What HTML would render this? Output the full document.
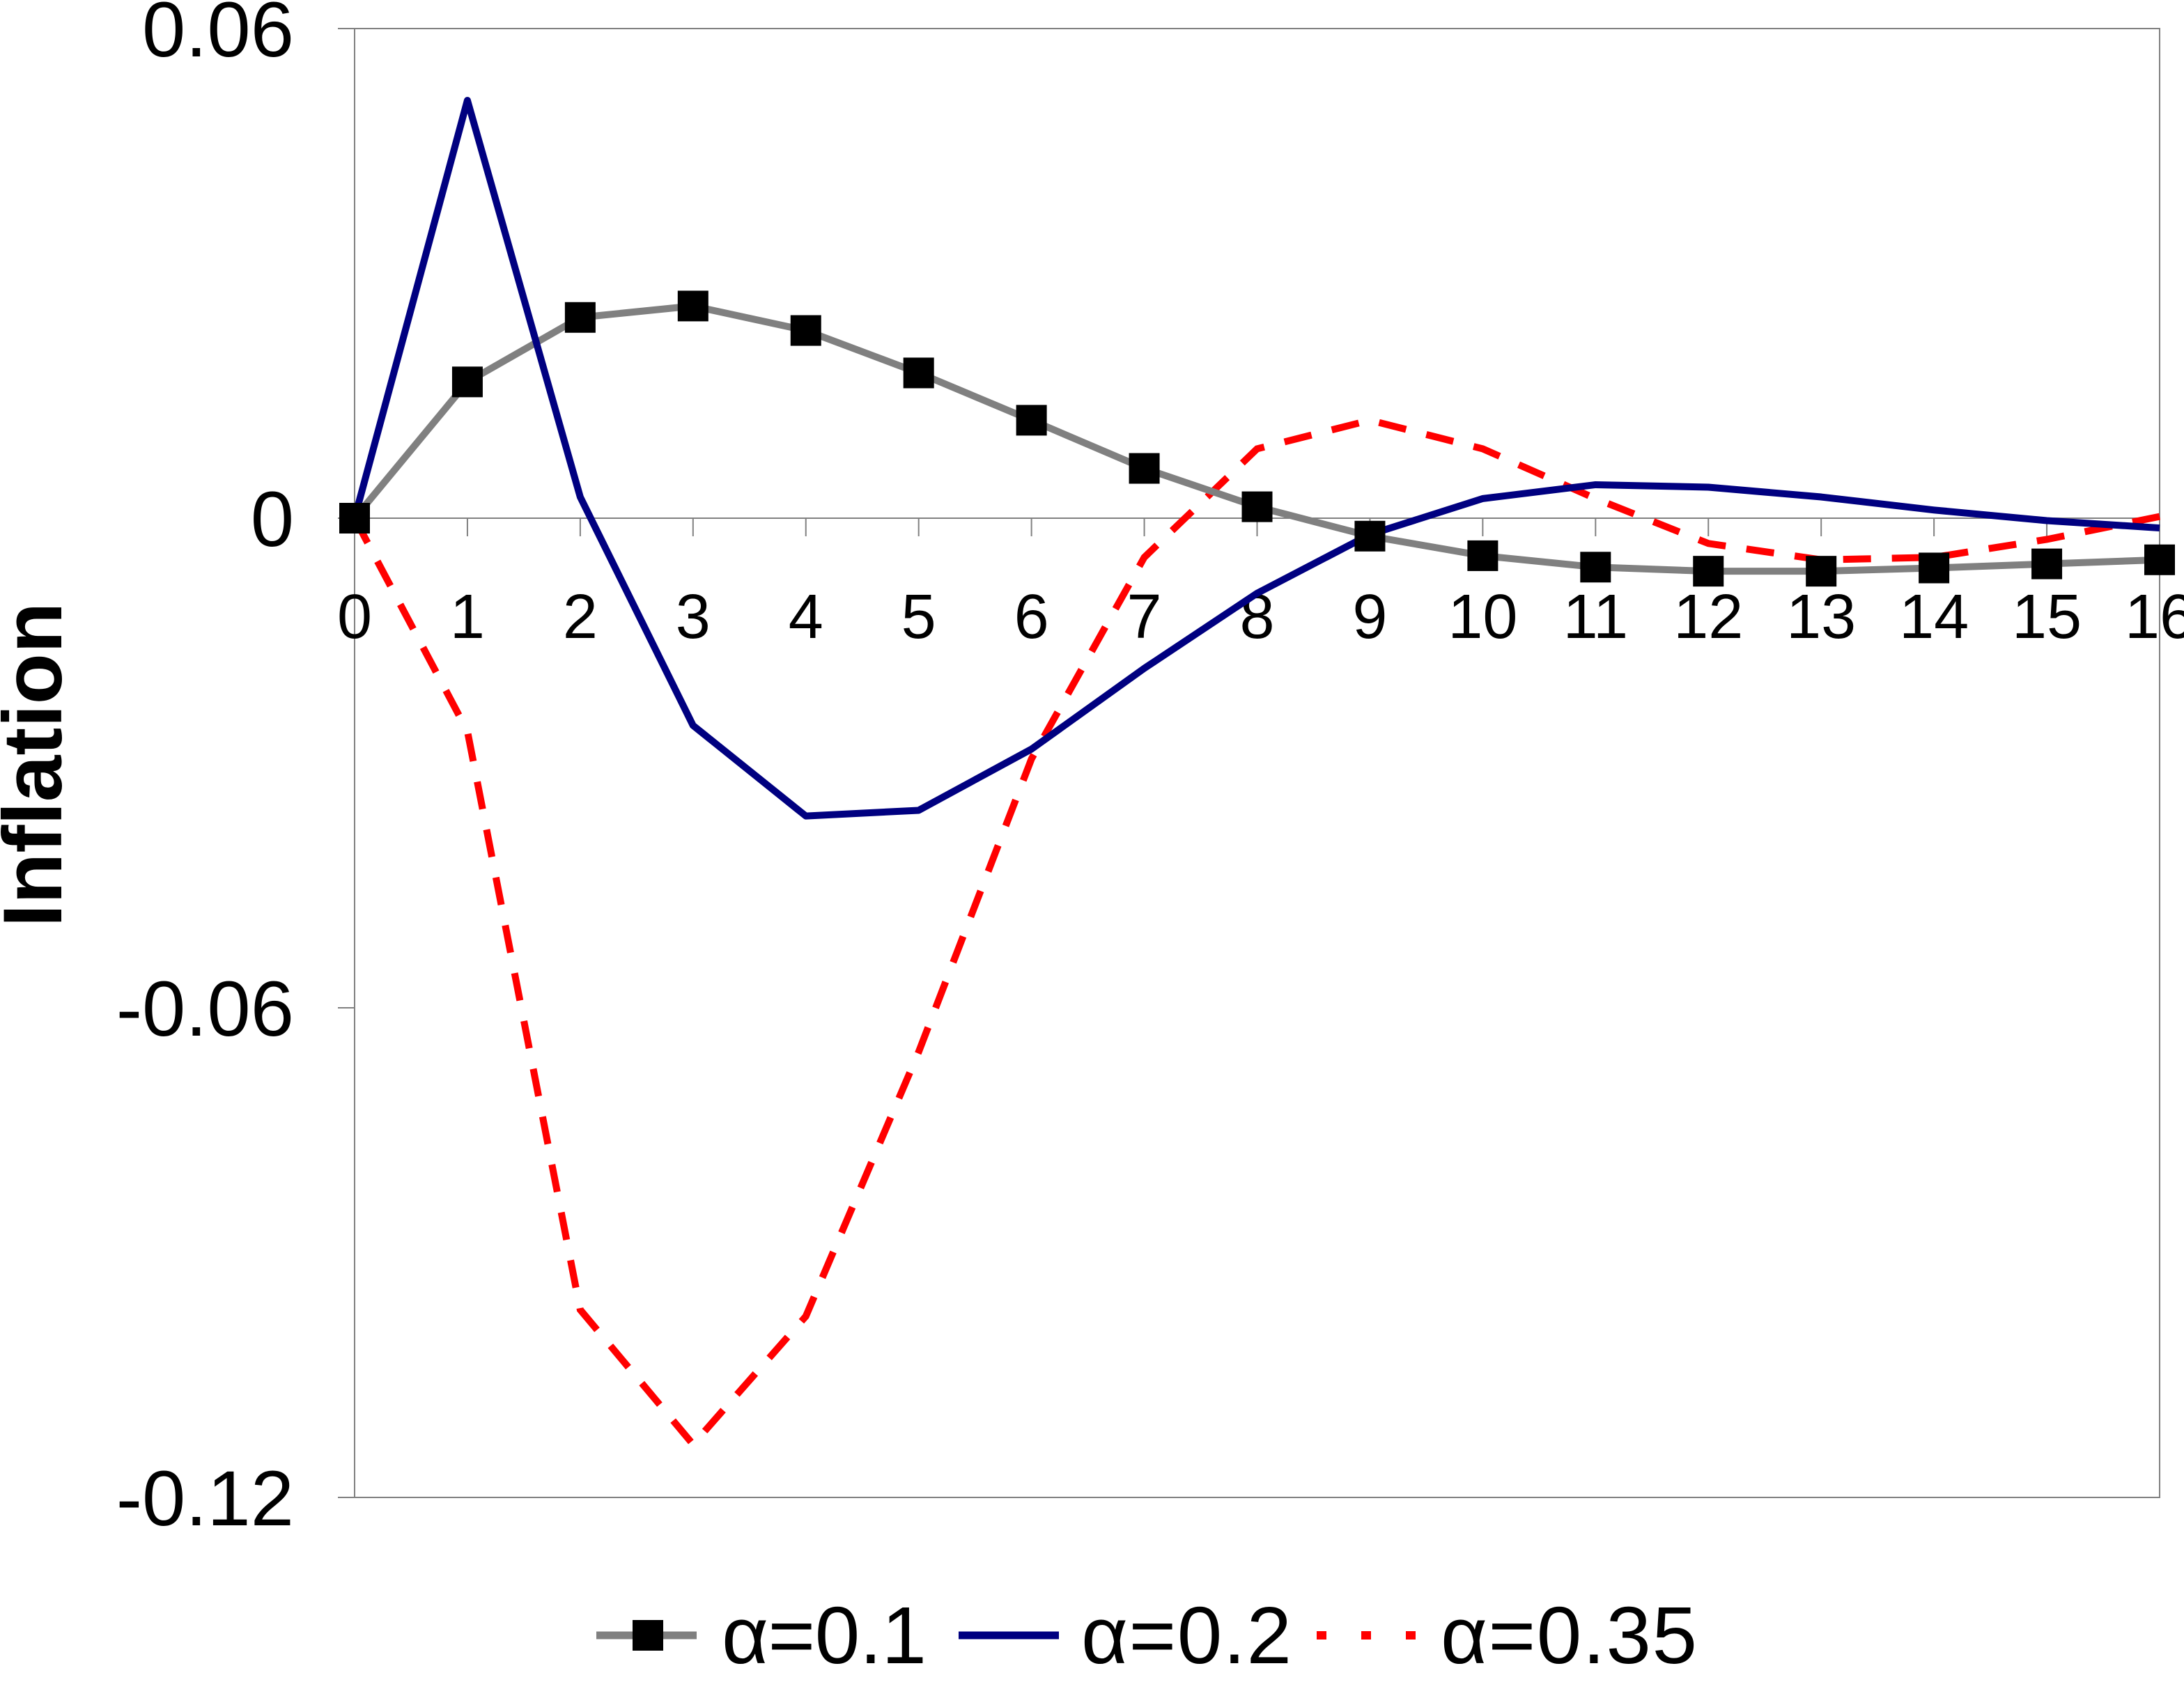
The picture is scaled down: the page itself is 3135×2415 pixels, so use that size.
<!DOCTYPE html>
<html><head><meta charset="utf-8"><style>
html,body{margin:0;padding:0;background:#fff;}
svg{display:block;font-family:"Liberation Sans",Arial,sans-serif;}
</style></head><body>
<svg id="chart" width="3135" height="2415" viewBox="0 0 3135 2415" xmlns="http://www.w3.org/2000/svg">
<g id="axes"></g><g id="series"></g><g id="legend"></g>
</svg>
<script>
const periods=[0,1,2,3,4,5,6,7,8,9,10,11,12,13,14,15,16];
const alpha01=[0,0.0167,0.0246,0.026,0.023,0.0178,0.012,0.0061,0.0014,-0.0022,-0.0046,-0.006,-0.0065,-0.0065,-0.0061,-0.0056,-0.0051];
const alpha02=[0,0.0512,0.0026,-0.0254,-0.0365,-0.0358,-0.0283,-0.0184,-0.0092,-0.002,0.0024,0.0041,0.0038,0.0026,0.001,-0.0003,-0.0012];
const alpha035=[0,-0.0261,-0.097,-0.1135,-0.0978,-0.0654,-0.0295,-0.0048,0.0085,0.012,0.0085,0.0024,-0.0031,-0.0051,-0.0048,-0.0026,0.0002];
const yTicks=[0.06,0,-0.06,-0.12];
const yTickLabels=["0.06","0","-0.06","-0.12"];
const seriesNames=["α=0.1","α=0.2","α=0.35"];

const NS="http://www.w3.org/2000/svg";
const L=509,R=3100,T=41,B=2150,yMax=0.06,yMin=-0.12;
const xs=i=>L+(R-L)*i/(periods.length-1);
const ys=v=>T+(yMax-v)/(yMax-yMin)*(B-T);
function mk(tag,attrs,parent,text){const e=document.createElementNS(NS,tag);for(const k in attrs)e.setAttribute(k,attrs[k]);if(text!==undefined)e.textContent=text;parent.appendChild(e);return e;}
const axes=document.getElementById('axes'),ser=document.getElementById('series'),leg=document.getElementById('legend');

let f=mk('rect',{x:L,y:T,width:R-L,height:B-T,fill:'none',stroke:'#808080','stroke-width':2},axes);


yTicks.forEach((v,i)=>{
  let t=mk('line',{x1:L-24,x2:L,y1:ys(v),y2:ys(v),stroke:'#808080','stroke-width':2},axes);
  
  
  let lb=mk('text',{x:422,y:ys(v)+40,'text-anchor':'end','font-size':112},axes,yTickLabels[i]);
  
  
});
let z=mk('line',{x1:L,x2:R,y1:ys(0),y2:ys(0),stroke:'#808080','stroke-width':2},axes);


periods.forEach((p,i)=>{
  let t=mk('line',{x1:xs(i),x2:xs(i),y1:ys(0),y2:ys(0)+26,stroke:'#808080','stroke-width':2},axes);
  
  
  let lb=mk('text',{x:xs(i),y:916,'text-anchor':'middle','font-size':90},axes,String(p));
  
  
});
let yt=mk('text',{x:0,y:0,transform:'translate(88,1098) rotate(-90)','text-anchor':'middle','font-size':120,'font-weight':'bold'},axes,'Inflation');



function pts(arr){return arr.map((v,i)=>xs(i)+','+ys(v)).join(' ');}
let s3=mk('polyline',{points:pts(alpha035),fill:'none',stroke:'#ff0000','stroke-width':10,'stroke-dasharray':'40,30'},ser);


let s1=mk('polyline',{points:pts(alpha01),fill:'none',stroke:'#808080','stroke-width':10},ser);


let s2=mk('polyline',{points:pts(alpha02),fill:'none',stroke:'#000080','stroke-width':10,'stroke-linejoin':'round'},ser);


alpha01.forEach((v,i)=>{
  let m=mk('rect',{x:xs(i)-22,y:ys(v)-22,width:44,height:44,fill:'#000'},ser);
  
  
});

const ly=2348;
let g1=mk('line',{x1:856,x2:1000,y1:ly,y2:ly,stroke:'#808080','stroke-width':11},leg);


let g1m=mk('rect',{x:908,y:ly-22,width:44,height:44,fill:'#000'},leg);


let t1=mk('text',{x:1036,y:ly+40,'font-size':116,textLength:294},leg,seriesNames[0]);


let g2=mk('line',{x1:1376,x2:1520,y1:ly,y2:ly,stroke:'#000080','stroke-width':11},leg);


let t2=mk('text',{x:1552,y:ly+40,'font-size':116,textLength:302},leg,seriesNames[1]);


let g3=mk('line',{x1:1890,x2:2040,y1:ly,y2:ly,stroke:'#ff0000','stroke-width':12,'stroke-dasharray':'14,50'},leg);


let t3=mk('text',{x:2068,y:ly+40,'font-size':116,textLength:368},leg,seriesNames[2]);


</script>
</body></html>
